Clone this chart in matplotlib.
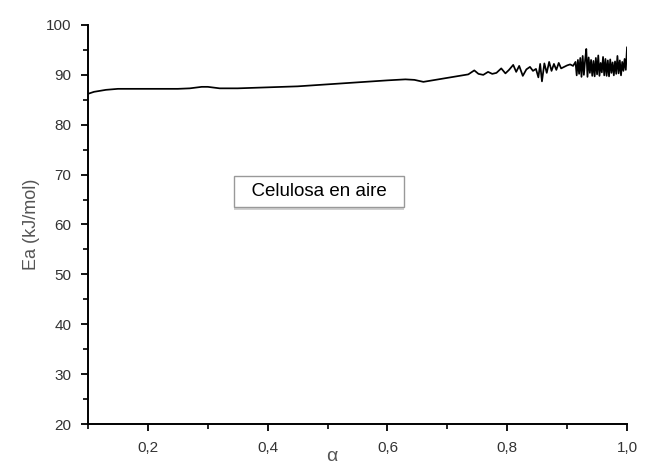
import matplotlib
matplotlib.use("Agg")
import matplotlib.pyplot as plt
from matplotlib.ticker import MultipleLocator, FuncFormatter
from matplotlib.patheffects import withSimplePatchShadow

alpha = [0.100, 0.110, 0.130, 0.150, 0.200, 0.250, 0.270, 0.290, 0.300, 0.320,
         0.350, 0.400, 0.450, 0.500, 0.550, 0.600, 0.630, 0.645, 0.660, 0.680,
         0.700, 0.720, 0.735, 0.745, 0.752, 0.760, 0.768, 0.775, 0.782, 0.790,
         0.797, 0.803, 0.810, 0.815, 0.820, 0.826, 0.832, 0.838, 0.843, 0.848,
         0.852, 0.855, 0.858, 0.862, 0.866, 0.870, 0.874, 0.878, 0.882, 0.886,
         0.890, 0.895, 0.900, 0.905, 0.910,
         0.914, 0.916, 0.918, 0.920, 0.922, 0.924, 0.926, 0.928, 0.930, 0.932,
         0.934, 0.936, 0.938, 0.940, 0.942, 0.944, 0.946, 0.948, 0.950, 0.952,
         0.954, 0.956, 0.958, 0.960, 0.962, 0.964, 0.966, 0.968, 0.970, 0.972,
         0.974, 0.976, 0.978, 0.980, 0.982, 0.984, 0.986, 0.988, 0.990, 0.992,
         0.994, 0.996, 0.998, 1.000]
ea = [86.2, 86.6, 87.0, 87.2, 87.2, 87.2, 87.3, 87.6, 87.6, 87.3,
      87.3, 87.5, 87.7, 88.1, 88.5, 88.9, 89.1, 89.0, 88.6, 89.0,
      89.4, 89.8, 90.1, 90.9, 90.2, 90.0, 90.6, 90.2, 90.4, 91.3,
      90.3, 91.0, 92.0, 90.6, 91.8, 89.8, 91.1, 91.6, 90.8, 91.2,
      89.5, 92.2, 88.7, 92.3, 90.4, 92.6, 90.8, 92.2, 91.0, 92.4,
      91.3, 91.6, 91.9, 92.1, 91.8,
      92.6, 89.9, 93.0, 90.2, 93.4, 89.6, 93.8, 90.0, 92.9, 95.2,
      89.6, 93.5, 90.4, 93.0, 89.8, 92.8, 89.7, 93.4, 90.1, 93.9,
      89.8, 92.4, 90.5, 93.6, 89.9, 93.2, 89.8, 92.9, 89.7, 93.1,
      90.4, 92.5, 89.9, 92.7, 90.2, 93.8, 90.3, 92.9, 89.9, 92.6,
      90.8, 93.2, 91.0, 95.5]

label_text = "Celulosa en aire"

plt.rcParams['font.family'] = ['Liberation Sans', 'DejaVu Sans']

fig = plt.figure(figsize=(6.5, 4.76), dpi=100)
ax = fig.add_axes([88/650, 1 - 424/476, (627 - 88)/650, (424 - 25)/476])

ax.plot(alpha, ea, color='black', lw=1.25)

ax.set_xlim(0.1, 1.0)
ax.set_ylim(20, 100)
ax.spines['top'].set_visible(False)
ax.spines['right'].set_visible(False)
for s in ['left', 'bottom']:
    ax.spines[s].set_linewidth(1.4)

ax.xaxis.set_major_locator(MultipleLocator(0.2))
ax.xaxis.set_minor_locator(MultipleLocator(0.1))
ax.yaxis.set_major_locator(MultipleLocator(10))
ax.yaxis.set_minor_locator(MultipleLocator(5))
ax.xaxis.set_major_formatter(FuncFormatter(lambda v, p: f"{v:.1f}".replace('.', ',')))
ax.yaxis.set_major_formatter(FuncFormatter(lambda v, p: f"{v:.0f}"))
ax.tick_params(which='major', direction='out', length=5, width=1.3, labelsize=11,
               colors='black', labelcolor='#333333')
ax.tick_params(axis='x', which='major', pad=7.5)
ax.tick_params(axis='y', which='major', pad=7)
ax.tick_params(which='minor', direction='out', length=3.5, width=1.2)

ax.set_xlabel('α', fontsize=14, color='#555555')
ax.xaxis.set_label_coords((332 - 88) / 539, -(448 - 424) / 399)
ax.set_ylabel('Ea (kJ/mol)', fontsize=13, color='#555555', labelpad=4)

t = ax.text(0.4856, 66.6, "  " + label_text + "  ", ha='center', va='center',
            fontsize=13.5, color='black',
            bbox=dict(boxstyle='square,pad=0.37', facecolor='white',
                      edgecolor='#999999', linewidth=1.0))
t.get_bbox_patch().set_path_effects([
    withSimplePatchShadow(offset=(0, -2), shadow_rgbFace='#d0d0d0', alpha=1.0)])

fig.savefig('out.png', dpi=100)
